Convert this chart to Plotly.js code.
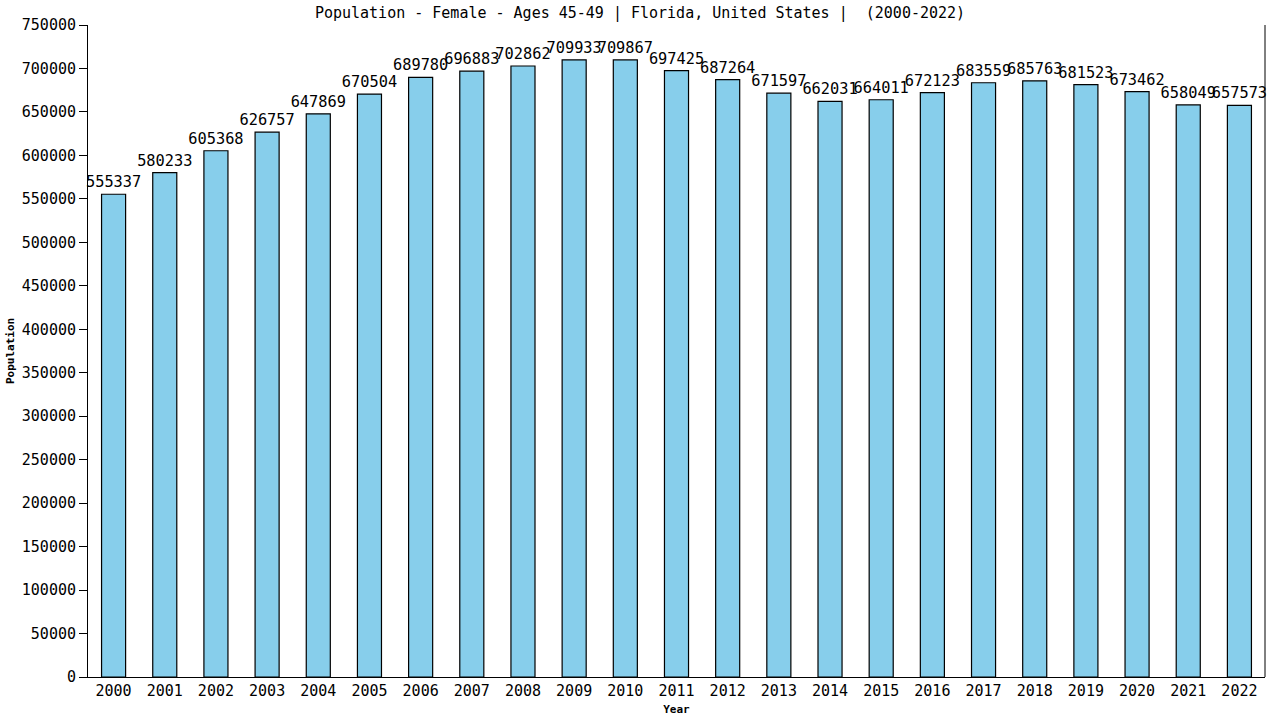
<!DOCTYPE html>
<html>
<head>
<meta charset="utf-8">
<script src="https://cdn.plot.ly/plotly-3.0.1.min.js"></script>
<style>
  body { margin: 0; background: #fff; }
  #chart { width: 1280px; height: 720px; }
</style>
</head>
<body>
<div id="chart"></div>
<script>
// population, female, ages 45-49, Florida
const years = ['2000','2001','2002','2003','2004','2005','2006','2007','2008','2009','2010','2011',
  '2012','2013','2014','2015','2016','2017','2018','2019','2020','2021','2022'];
const population = [555337, 580233, 605368, 626757, 647869, 670504, 689780, 696883, 702862, 709933,
  709867, 697425, 687264, 671597, 662031, 664011, 672123, 683559, 685763, 681523, 673462, 658049, 657573];
const yTicks = [];
for (let v = 0; v <= 750000; v += 50000) yTicks.push(v);

const mono = 'DejaVu Sans Mono, monospace';

const trace = {
  type: 'bar',
  x: years,
  y: population,
  text: population.map(String),
  textposition: 'outside',
  constraintext: 'none',
  cliponaxis: false,
  textfont: { family: mono, size: 15.3, color: '#000' },
  marker: { color: '#87CEEB', line: { color: '#000', width: 1.2 } },
  hoverinfo: 'x+y'
};

const layout = {
  width: 1280,
  height: 720,
  margin: { l: 88, r: 15, t: 25, b: 43 },
  paper_bgcolor: '#fff',
  plot_bgcolor: '#fff',
  bargap: 0.53,
  showlegend: false,
  title: {
    text: 'Population - Female - Ages 45-49 | Florida, United States |  (2000-2022)',
    font: { family: mono, size: 15, color: '#000' },
    x: 0.5, xanchor: 'center', y: 0.982, yanchor: 'middle'
  },
  xaxis: {
    type: 'category',
    range: [-0.5, 22.5],
    showline: true, linecolor: '#000', linewidth: 1, mirror: false,
    ticks: '', showgrid: false,
    tickfont: { family: mono, size: 15, color: '#000' },
    title: { text: '<b>Year</b>', font: { family: mono, size: 11, color: '#000' }, standoff: 6 }
  },
  yaxis: {
    range: [0, 750000],
    tickvals: yTicks,
    ticktext: yTicks.map(String),
    showline: true, linecolor: '#000', linewidth: 1,
    ticks: 'outside', ticklen: 8, tickcolor: '#000',
    showgrid: false, zeroline: false,
    tickfont: { family: mono, size: 15, color: '#000' },
    title: { text: '<b>Population</b>', font: { family: mono, size: 11, color: '#000' }, standoff: 4 }
  },
  shapes: [{
    type: 'line', xref: 'paper', yref: 'paper',
    x0: 1, x1: 1, y0: 0, y1: 1,
    line: { color: '#000', width: 1 }
  }]
};

Plotly.newPlot('chart', [trace], layout, { displayModeBar: false, staticPlot: true });
</script>
</body>
</html>
